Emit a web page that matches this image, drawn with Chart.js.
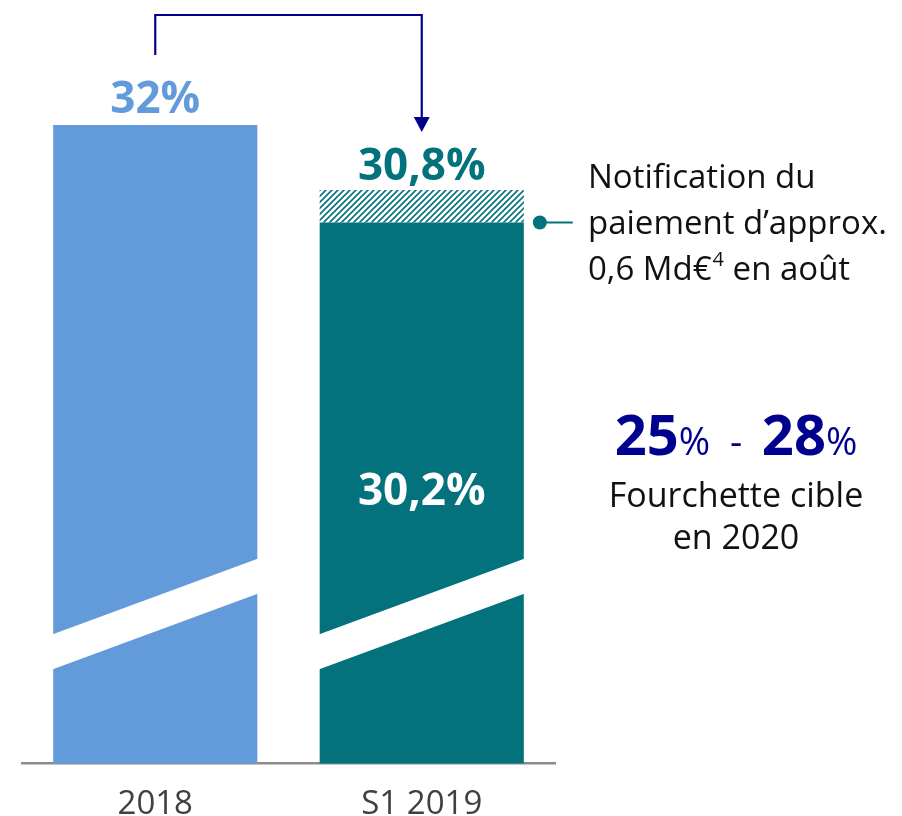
<!DOCTYPE html>
<html>
<head>
<meta charset="utf-8">
<script src="https://cdn.jsdelivr.net/npm/chart.js@4/dist/chart.umd.min.js"></script>
<style>
  body { margin: 0; background: #fff; }
  canvas { display: block; }
</style>
</head>
<body>
<canvas id="ratioChart" width="902" height="816"></canvas>
<script>
// donnees
var categories = ['2018', 'S1 2019'];
var baseValues = [32, 30.2];
var notifValues = [null, 0.6];
var noteLines = ['Notification du', 'paiement d\u2019approx.', '0,6 Md\u20ac'];
var targetRange = ['25', '28'];
var targetLines = ['Fourchette cible', 'en 2020'];

var BLUE = '#639bda';
var TEAL = '#03727d';
var NAVY = '#00008f';
var FONT = "'Open Sans', sans-serif";

Chart.defaults.font.family = FONT;

function hatch(color) {
    var c = document.createElement('canvas');
    c.width = 6; c.height = 6;
    var g = c.getContext('2d');
    g.strokeStyle = color;
    g.lineWidth = 1.6;
    g.beginPath();
    g.moveTo(0, 6); g.lineTo(6, 0);
    g.moveTo(-1, 1); g.lineTo(1, -1);
    g.moveTo(5, 7); g.lineTo(7, 5);
    g.stroke();
    return document.createElement('canvas').getContext('2d').createPattern(c, 'repeat');
}

function fmt(v) {
    return (Math.round(v * 10) / 10).toString().replace('.', ',') + '%';
}

var decorPlugin = {
    id: 'decor',
    afterDatasetsDraw: function (chart) {
        var ctx = chart.ctx;
        var area = chart.chartArea;
        var bars = chart.getDatasetMeta(0).data;
        var tops = chart.getDatasetMeta(1).data;

        // coupure de l'axe (bande blanche)
        ctx.save();
        ctx.fillStyle = '#fff';
        bars.forEach(function (b) {
            var l = b.x - b.width / 2 - 1, r = b.x + b.width / 2 + 1;
            ctx.beginPath();
            ctx.moveTo(l, area.bottom - 129);
            ctx.lineTo(r, area.bottom - 205);
            ctx.lineTo(r, area.bottom - 170);
            ctx.lineTo(l, area.bottom - 94);
            ctx.closePath();
            ctx.fill();
        });

        // etiquettes des valeurs
        ctx.textAlign = 'center';
        ctx.textBaseline = 'alphabetic';
        ctx.font = 'bold 44px ' + FONT;
        ctx.fillStyle = BLUE;
        ctx.fillText(fmt(baseValues[0]), bars[0].x, bars[0].y - 12);
        var total = baseValues[1] + notifValues[1];
        ctx.fillStyle = TEAL;
        ctx.fillText(fmt(total), tops[1].x, tops[1].y - 10);
        ctx.fillStyle = '#fff';
        ctx.textBaseline = 'middle';
        ctx.fillText(fmt(baseValues[1]), bars[1].x, (bars[1].y + area.bottom) / 2);

        // fleche
        ctx.strokeStyle = NAVY;
        ctx.fillStyle = NAVY;
        ctx.lineWidth = 2.2;
        ctx.beginPath();
        ctx.moveTo(bars[0].x, 55);
        ctx.lineTo(bars[0].x, 15);
        ctx.lineTo(bars[1].x, 15);
        ctx.lineTo(bars[1].x, 120);
        ctx.stroke();
        ctx.beginPath();
        ctx.moveTo(bars[1].x - 8, 117);
        ctx.lineTo(bars[1].x + 8, 117);
        ctx.lineTo(bars[1].x, 132);
        ctx.closePath();
        ctx.fill();

        // pastille + note
        var dotX = bars[1].x + bars[1].width / 2 + 16;
        ctx.strokeStyle = TEAL;
        ctx.fillStyle = TEAL;
        ctx.lineWidth = 2;
        ctx.beginPath();
        ctx.moveTo(dotX, bars[1].y);
        ctx.lineTo(dotX + 33, bars[1].y);
        ctx.stroke();
        ctx.beginPath();
        ctx.arc(dotX, bars[1].y, 7, 0, Math.PI * 2);
        ctx.fill();

        ctx.fillStyle = '#111';
        ctx.textAlign = 'left';
        ctx.textBaseline = 'alphabetic';
        ctx.font = '33px ' + FONT;
        ctx.fillText(noteLines[0], 588, 188);
        ctx.fillText(noteLines[1], 588, 234);
        ctx.fillText(noteLines[2], 588, 280);
        var w = ctx.measureText(noteLines[2]).width;
        ctx.font = '20px ' + FONT;
        ctx.fillText('4', 588 + w + 1, 266);
        var w4 = ctx.measureText('4').width;
        ctx.font = '33px ' + FONT;
        ctx.fillText(' en ao\u00fbt', 588 + w + w4 + 1, 280);

        // fourchette cible
        var cx = 736, by = 455;
        var parts = [
            { t: targetRange[0], f: 'bold 56px ' + FONT },
            { t: '%', f: '38px ' + FONT },
            { t: '  -  ', f: '38px ' + FONT },
            { t: targetRange[1], f: 'bold 56px ' + FONT },
            { t: '%', f: '38px ' + FONT }
        ];
        var tw = 0;
        parts.forEach(function (p) { ctx.font = p.f; p.w = ctx.measureText(p.t).width; tw += p.w; });
        var x = cx - tw / 2;
        ctx.fillStyle = NAVY;
        parts.forEach(function (p) { ctx.font = p.f; ctx.fillText(p.t, x, by); x += p.w; });

        ctx.fillStyle = '#111';
        ctx.textAlign = 'center';
        ctx.font = '34px ' + FONT;
        ctx.fillText(targetLines[0], cx, 507);
        ctx.fillText(targetLines[1], cx, 549);
        ctx.restore();
    }
};

var cv = document.getElementById('ratioChart');
var pat = hatch(TEAL);

new Chart(cv, {
    type: 'bar',
    data: {
        labels: categories,
        datasets: [
            {
                data: baseValues,
                backgroundColor: [BLUE, TEAL],
                barPercentage: 0.766,
                categoryPercentage: 1
            },
            {
                data: notifValues,
                backgroundColor: pat,
                barPercentage: 0.766,
                categoryPercentage: 1
            }
        ]
    },
    options: {
        responsive: false,
        animation: false,
        layout: { padding: { top: 71, left: 22, right: 347, bottom: -29 } },
        plugins: {
            legend: { display: false },
            tooltip: { enabled: false }
        },
        scales: {
            x: {
                stacked: true,
                grid: { display: false, drawTicks: false },
                border: { display: true, color: '#8c8c8c', width: 2.5 },
                ticks: { color: '#404040', font: { size: 33 }, padding: 21 }
            },
            y: {
                stacked: true,
                display: false,
                min: 20.2,
                max: 33
            }
        }
    },
    plugins: [decorPlugin]
});
</script>
</body>
</html>
